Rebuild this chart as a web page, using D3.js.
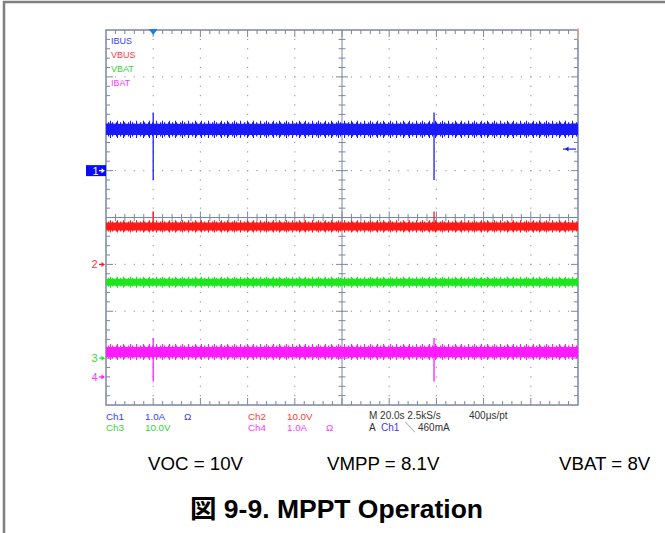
<!DOCTYPE html>
<html>
<head>
<meta charset="utf-8">
<script src="https://cdn.jsdelivr.net/npm/d3@7"></script>
<style>
  html, body { margin: 0; padding: 0; background: #fff; }
  svg { display: block; }
  text { font-family: "Liberation Sans", Arial, "Noto Sans CJK JP", sans-serif; }
</style>
</head>
<body>
<svg id="chart" width="665" height="533"></svg>
<script>
// ---------------- DATA ----------------
const channels      = ["IBUS", "VBUS", "VBAT", "IBAT"];
const channelIds    = ["Ch1", "Ch2", "Ch3", "Ch4"];
const channelScale  = [1.0, 10.0, 10.0, 1.0];       // units per division
const channelUnit   = ["A", "V", "V", "A"];
const scaleLabels   = ["1.0A", "10.0V", "10.0V", "1.0A"];
const groundDiv     = [1.0, -1.0, -3.0, -3.4];      // ground marker position (divisions from centre)
const traceLevel    = [0.88, 8.1, 16.2, 0.53];      // mean trace level (channel units)
const traceNoise    = [0.12, 0.85, 0.75, 0.11];     // half-width of noise band (channel units)
const spikeHigh     = [1.24, 11.3, 17.0, 0.83];     // spike peak (channel units)
const spikeLow      = [-0.20, 7.0, 15.6, -0.10];    // spike trough (channel units)
const traceTimes    = [0, 200];                     // record span, s
const spikeTimes    = [20, 139];                    // s
const triggerTime   = 20;                           // s
const triggerLevel  = 0.46;                         // A on Ch1
const timeDivs      = 10, voltDivs = 8, minorPerDiv = 5;
const timebaseText  = "M 20.0s 2.5kS/s";
const recordText    = "400\u03bcs/pt";
const triggerText   = ["A", "Ch1", "\u2572", "460mA"];
const annotations   = ["VOC = 10V", "VMPP = 8.1V", "VBAT = 8V"];
const title         = "\u56f3 9-9. MPPT Operation";

// ---------------- STYLE ----------------
const colors   = ["#1a1aff", "#ff1a1a", "#1ee61e", "#ff1aff"];
const txtCols  = ["#3a3aff", "#ff3a3a", "#33d633", "#ff3aff"];
const frameCol = "#7c86a6";
const L = 106, R = 578, T = 30, B = 405;

const svg = d3.select("#chart");
const x = d3.scaleLinear().domain([traceTimes[0], traceTimes[1]]).range([L, R]);
const yDiv = d3.scaleLinear().domain([-voltDivs / 2, voltDivs / 2]).range([B, T]);
const yCh = (c, v) => yDiv(groundDiv[c] + v / channelScale[c]);

// outer page frame (top + left)
svg.append("line").attr("x1", 3).attr("x2", 665).attr("y1", 2).attr("y2", 2)
  .attr("stroke", "#7f7f7f").attr("stroke-width", 2.5);
svg.append("line").attr("x1", 4).attr("x2", 4).attr("y1", 1).attr("y2", 533)
  .attr("stroke", "#7f7f7f").attr("stroke-width", 2.5);

// patterns for noise fuzz
const defs = svg.append("defs");
colors.forEach((c, i) => {
  const pA = defs.append("pattern").attr("id", "fa" + i).attr("patternUnits", "userSpaceOnUse")
    .attr("width", 4).attr("height", 40);
  pA.append("rect").attr("x", 0).attr("y", 0).attr("width", 1.2).attr("height", 40).attr("fill", c);
  const pB = defs.append("pattern").attr("id", "fb" + i).attr("patternUnits", "userSpaceOnUse")
    .attr("width", 13).attr("height", 40);
  pB.append("rect").attr("x", 0).attr("y", 0).attr("width", 1).attr("height", 40).attr("fill", c);
  pB.append("rect").attr("x", 6).attr("y", 0).attr("width", 1).attr("height", 40).attr("fill", c);
});

// grid dots
const xStep = (R - L) / (timeDivs * minorPerDiv);
const yStep = (B - T) / (voltDivs * minorPerDiv);
const dots = [];
for (let d = 1; d < timeDivs; d++) {
  if (d === timeDivs / 2) continue;
  const gx = L + d * (R - L) / timeDivs;
  for (let k = 1; k < voltDivs * minorPerDiv; k++) dots.push([gx, T + k * yStep]);
}
for (let d = 1; d < voltDivs; d++) {
  if (d === voltDivs / 2) continue;
  const gy = T + d * (B - T) / voltDivs;
  for (let k = 1; k < timeDivs * minorPerDiv; k++) dots.push([L + k * xStep, gy]);
}
svg.append("g").selectAll("rect").data(dots).join("rect")
  .attr("x", d => d[0] - 0.6).attr("y", d => d[1] - 0.6).attr("width", 1.2).attr("height", 1.2)
  .attr("fill", "#9aa0b0");

// centre crosshair with ticks
const cx = (L + R) / 2, cy = (T + B) / 2;
const frame = svg.append("g").attr("stroke", frameCol).attr("stroke-width", 1);
frame.append("line").attr("x1", L).attr("x2", R).attr("y1", cy).attr("y2", cy);
frame.append("line").attr("x1", cx).attr("x2", cx).attr("y1", T).attr("y2", B);
for (let k = 1; k < timeDivs * minorPerDiv; k++) {
  const tx = L + k * xStep, maj = k % minorPerDiv === 0;
  const len = maj ? 6 : 3.5;
  frame.append("line").attr("x1", tx).attr("x2", tx).attr("y1", cy - len).attr("y2", cy + len);
  frame.append("line").attr("x1", tx).attr("x2", tx).attr("y1", T).attr("y2", T + (maj ? 7 : 4));
  frame.append("line").attr("x1", tx).attr("x2", tx).attr("y1", B).attr("y2", B - (maj ? 7 : 4));
}
for (let k = 1; k < voltDivs * minorPerDiv; k++) {
  const ty = T + k * yStep, maj = k % minorPerDiv === 0;
  const len = maj ? 6 : 3.5;
  frame.append("line").attr("x1", cx - len).attr("x2", cx + len).attr("y1", ty).attr("y2", ty);
  frame.append("line").attr("x1", L).attr("x2", L + (maj ? 7 : 4)).attr("y1", ty).attr("y2", ty);
  frame.append("line").attr("x1", R).attr("x2", R - (maj ? 7 : 4)).attr("y1", ty).attr("y2", ty);
}
frame.append("rect").attr("x", L).attr("y", T).attr("width", R - L).attr("height", B - T)
  .attr("fill", "none").attr("stroke-width", 1.5);
svg.append("line").attr("x1", R).attr("x2", R).attr("y1", T - 2).attr("y2", T + 10)
  .attr("stroke", "#f0b080").attr("stroke-width", 1);

// traces
const pts = traceTimes.map(t => ({ t }));
channels.forEach((name, c) => {
  const g = svg.append("g");
  const mk = (w, fill) => g.append("path").datum(pts)
    .attr("d", d3.area().x(d => x(d.t))
      .y0(() => yCh(c, traceLevel[c] - w))
      .y1(() => yCh(c, traceLevel[c] + w))(pts))
    .attr("fill", fill);
  const n = traceNoise[c];
  mk(n * 1.55, `url(#fb${c})`);
  mk(n * 1.25, `url(#fa${c})`);
  mk(n, colors[c]);
  g.selectAll("line.spk").data(spikeTimes).join("line")
    .attr("x1", d => x(d)).attr("x2", d => x(d))
    .attr("y1", yCh(c, spikeHigh[c])).attr("y2", yCh(c, spikeLow[c]))
    .attr("stroke", colors[c]).attr("stroke-width", 1.3);
});

// legend
channels.forEach((name, c) => {
  svg.append("text").attr("x", 111).attr("y", 44 + c * 14).attr("font-size", 9)
    .attr("fill", txtCols[c]).text(name);
});

// ground markers
const arrow = (g, x0, y0, x1, col) => {
  g.append("line").attr("x1", x0).attr("x2", x1 - 2).attr("y1", y0).attr("y2", y0)
    .attr("stroke", col).attr("stroke-width", 1.2);
  const dir = x1 > x0 ? 1 : -1;
  g.append("path").attr("d", `M${x1},${y0} L${x1 - dir * 3.5},${y0 - 2.5} L${x1 - dir * 3.5},${y0 + 2.5} Z`)
    .attr("fill", col);
};
channels.forEach((name, c) => {
  const gy = yDiv(groundDiv[c]);
  const g = svg.append("g");
  if (c === 0) {
    g.append("rect").attr("x", 86).attr("y", gy - 5.5).attr("width", 20).attr("height", 11).attr("fill", "#0a0aff");
    g.append("text").attr("x", 92.5).attr("y", gy + 4).attr("font-size", 11).attr("fill", "#fff").text("1");
    arrow(g, 99, gy, 105, "#fff");
  } else {
    g.append("text").attr("x", 91.5).attr("y", gy + 4).attr("font-size", 11).attr("fill", txtCols[c]).text(String(c + 1));
    arrow(g, 99, gy, 105, colors[c]);
  }
});

// trigger level arrow & trigger position marker
arrow(svg.append("g"), 576, yCh(0, triggerLevel), 565, colors[0]);
const tx0 = x(triggerTime);
svg.append("path").attr("d", `M${tx0 - 4.5},${T - 1} L${tx0 + 4.5},${T - 1} L${tx0},${T + 5} Z`).attr("fill", "#1f80d8");

// readout
const ro = svg.append("g").attr("font-size", 9.8);
const chPos = [[106, 419.5], [248, 419.5], [106, 430.5], [248, 430.5]];
channelIds.forEach((id, c) => {
  const [px, py] = chPos[c];
  ro.append("text").attr("x", px).attr("y", py).attr("fill", txtCols[c]).text(id);
  ro.append("text").attr("x", px + 39).attr("y", py).attr("fill", txtCols[c]).text(scaleLabels[c]);
  if (channelUnit[c] === "A")
    ro.append("text").attr("x", px + 78).attr("y", py).attr("fill", txtCols[c]).text("\u03a9");
});
ro.append("text").attr("x", 369).attr("y", 419).attr("font-size", 10).attr("fill", "#333").text(timebaseText);
ro.append("text").attr("x", 469).attr("y", 419).attr("font-size", 10).attr("fill", "#333").text(recordText);
const trx = [369, 381, 405, 418];
triggerText.forEach((s, i) => {
  ro.append("text").attr("x", trx[i]).attr("y", 430.5).attr("font-size", 10)
    .attr("fill", i === 1 ? txtCols[0] : "#333").text(s);
});

// annotations & title
const annX = [148, 327, 559];
annotations.forEach((s, i) => {
  svg.append("text").attr("x", annX[i]).attr("y", 470).attr("font-size", 18.7).attr("fill", "#000").text(s);
});
svg.append("text").attr("x", 190).attr("y", 518).attr("font-size", 26.5).attr("font-weight", "bold")
  .attr("fill", "#000").text(title);
</script>
</body>
</html>
